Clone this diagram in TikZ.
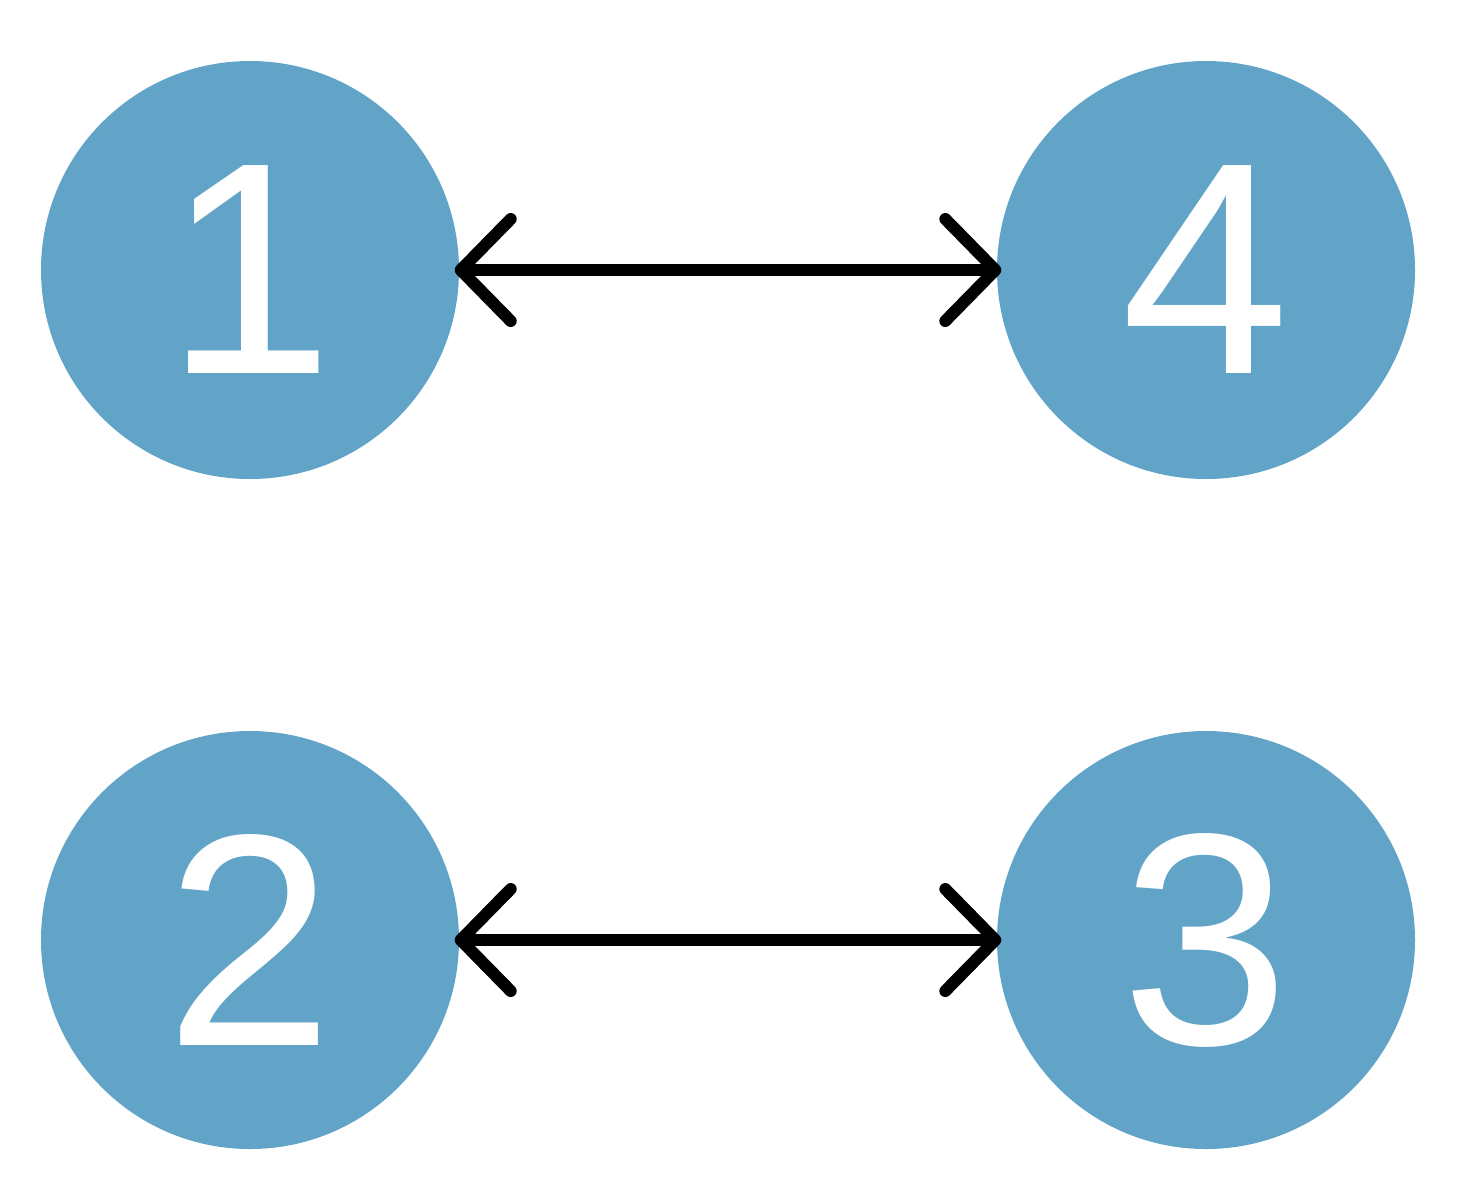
\documentclass[tikz,border=0pt]{standalone}
\usepackage{fontspec}
\setmainfont{Liberation Sans}
\usetikzlibrary{arrows.meta,positioning}
\definecolor{nodeblue}{RGB}{97,164,199}
\tikzset{
    state/.style={circle,fill=nodeblue,minimum size=4.18cm,inner sep=0pt,text=white,font=\fontsize{86}{86}\selectfont},
    link/.style={{Straight Barb[round,length=0.5cm,width=1.02cm]}-{Straight Barb[round,length=0.5cm,width=1.02cm]},line width=0.12cm,line cap=round,shorten <=-0.05cm,shorten >=-0.05cm}
}
\begin{document}
\begin{tikzpicture}
    \useasboundingbox (0,0) rectangle (14.84,-12);
    \node[state] (1) at (2.5,-2.7) {1};
    \node[state] (4) at (12.06,-2.7) {4};
    \node[state] (2) at (2.5,-9.4) {2};
    \node[state] (3) at (12.06,-9.4) {3};
    \draw [link] (1) to (4);
    \draw [link] (2) to (3);
\end{tikzpicture}
\end{document}
